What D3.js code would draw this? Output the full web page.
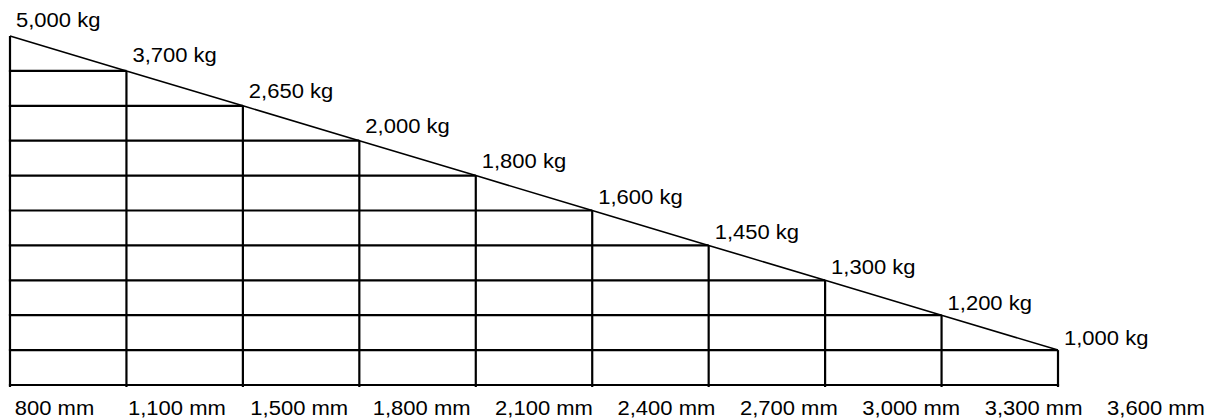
<!DOCTYPE html>
<html>
<head>
<meta charset="utf-8">
<script src="https://cdn.jsdelivr.net/npm/d3@7"></script>
<style>
  html, body { margin: 0; padding: 0; background: #fff; }
  text { font-family: "Liberation Sans", Arial, sans-serif; fill: #000; }
</style>
</head>
<body>
<div id="chart"></div>
<script>
// lengths along the bottom, load capacity at each step
const lengthsMm = [800, 1100, 1500, 1800, 2100, 2400, 2700, 3000, 3300, 3600];
const loadsKg = [5000, 3700, 2650, 2000, 1800, 1600, 1450, 1300, 1200, 1000];
const steps = d3.range(loadsKg.length); // 0..9

var W = 1219, H = 418;
var svg = d3.select("#chart").append("svg")
  .attr("width", W).attr("height", H);

const fmt = d3.format(",");

// grid geometry, driven by step index
var xScale = d3.scaleLinear().domain([0, steps.length - 1]).range([10, 1058]);
var yScale = d3.scaleLinear().domain([0, steps.length]).range([36, 385]);
// labels sit on a slightly flatter slope than the stair steps
var yLabel = d3.scaleLinear().domain([0, steps.length - 1]).range([27, 345]);
// bottom labels are spread evenly across the page
var xBottom = d3.scalePoint().domain(lengthsMm).range([54.5, 1156]);

const bottomY = yScale(steps.length);
const gridW = 2.2;

var grid = svg.append("g").attr("stroke", "#000").attr("stroke-width", gridW).attr("fill", "none");

// left edge
grid.append("line")
  .attr("x1", xScale(0)).attr("x2", xScale(0))
  .attr("y1", yScale(0)).attr("y2", bottomY + 2);

// horizontal step lines: from left edge to the step corner
grid.selectAll("line.h")
  .data(steps.slice(1)).enter()
  .append("line").attr("class", "h")
  .attr("x1", xScale(0) - gridW / 2)
  .attr("x2", d => xScale(d))
  .attr("y1", d => yScale(d)).attr("y2", d => yScale(d));

// bottom line
grid.append("line")
  .attr("x1", xScale(0) - gridW / 2).attr("x2", xScale(steps.length - 1) + gridW / 2)
  .attr("y1", bottomY).attr("y2", bottomY);

// vertical lines from step corner to the bottom (little tick below)
grid.selectAll("line.v")
  .data(steps.slice(1)).enter()
  .append("line").attr("class", "v")
  .attr("x1", d => xScale(d)).attr("x2", d => xScale(d))
  .attr("y1", d => yScale(d)).attr("y2", bottomY + 2);

// diagonal through the corners
var diag = d3.line().x(d => xScale(d)).y(d => yScale(d));
svg.append("path")
  .datum(steps)
  .attr("d", diag)
  .attr("fill", "none")
  .attr("stroke", "#000")
  .attr("stroke-width", 1.6);

// text in the picture is a bit wider than plain Arial, stretch it
function stretch(sel, k) {
  sel.each(function () {
    const w = this.getComputedTextLength();
    d3.select(this).attr("textLength", w * k).attr("lengthAdjust", "spacingAndGlyphs");
  });
}

svg.append("g").selectAll("text")
  .data(steps).enter()
  .append("text")
  .attr("x", d => xScale(d) + 6)
  .attr("y", d => yLabel(d))
  .attr("font-size", 20)
  .text(d => fmt(loadsKg[d]) + " kg")
  .call(stretch, 1.1);

svg.append("g").selectAll("text")
  .data(lengthsMm).enter()
  .append("text")
  .attr("x", d => xBottom(d))
  .attr("y", 415)
  .attr("font-size", 20)
  .attr("text-anchor", "middle")
  .text(d => fmt(d) + " mm")
  .call(stretch, 1.1);
</script>
</body>
</html>
